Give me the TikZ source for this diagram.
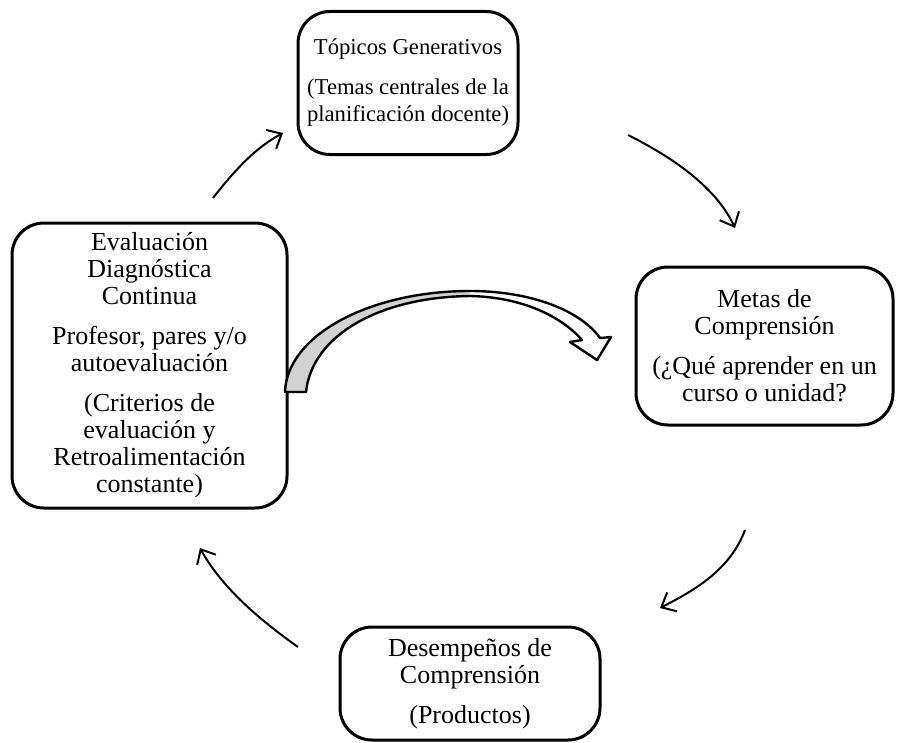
\documentclass[tikz,border=0pt]{standalone}
\usepackage{fontspec}
\setmainfont{Liberation Serif}
\usepackage{tikz}
\usetikzlibrary{positioning}
\usetikzlibrary{arrows,arrows.meta}

\tikzset{box/.style={draw, line width=2.25pt, rounded corners=24pt, align=center, inner sep=0pt,
    font=\fontsize{19.5}{20.25}\selectfont}}
\tikzset{flecha/.style={line width=1.5pt, -{Straight Barb[length=9pt,width=16pt,line width=1.5pt]}}}

\begin{document}
\begin{tikzpicture}[x=0.75pt,y=-0.75pt]
\useasboundingbox (0,0) rectangle (905,742);
\node[box, font=\fontsize{17}{20.25}\selectfont, minimum width=165pt, minimum height=107.25pt] (topicos) at (408,83)
  {Tópicos Generativos\\[9.75pt](Temas centrales de la\\planificación docente)};
\node[box, minimum width=192.75pt, minimum height=118.5pt] (metas) at (764.5,346)
  {Metas de\\Comprensión\\[9.75pt](¿Qué aprender en un\\curso o unidad?};
\node[box, minimum width=195pt, minimum height=84.75pt] (desemp) at (470,683.5)
  {Desempeños de\\Comprensión\\[9.75pt](Productos)};
\node[box, minimum width=206.25pt, minimum height=213.75pt] (evalua) at (149.5,365.5)
  {Evaluación\\Diagnóstica\\Continua\\[9.75pt]Profesor, pares y/o\\autoevaluación\\[9.75pt](Criterios de\\evaluación y\\Retroalimentación\\constante)};
% ciclo
\coordinate (a1) at (213,198);
\coordinate (b1) at (283,133);
\coordinate (a2) at (628,135);
\coordinate (b2) at (735,228);
\coordinate (a3) at (745,530);
\coordinate (b3) at (660,608);
\coordinate (a4) at (298,647);
\coordinate (b4) at (200,548);
\draw[flecha] (a1) .. controls (235,170) and (255,148) .. (b1);
\draw[flecha] (a2) .. controls (668,155) and (715,185) .. (b2);
\draw[flecha] (a3) .. controls (730,570) and (695,590) .. (b3);
\draw[flecha] (a4) .. controls (260,620) and (222,588) .. (b4);
% flecha curva
\fill[white] (285,392) .. controls (287,335) and (370,291) .. (470,291)
  .. controls (530,291) and (580,310) .. (600,338) -- (611,337) -- (597,360) -- (570,342) -- (582,340)
  .. controls (560,315) and (520,297) .. (470,296)
  .. controls (380,297) and (312,335) .. (306,392) -- cycle;
\fill[gray!35] (285,392) .. controls (287,335) and (370,291) .. (470,291) -- (470,296)
  .. controls (380,297) and (312,335) .. (306,392) -- cycle;
\draw[line width=1.8pt, line join=round] (285,392) .. controls (287,335) and (370,291) .. (470,291)
  .. controls (530,291) and (580,310) .. (600,338) -- (611,337) -- (597,360) -- (570,342) -- (582,340)
  .. controls (560,315) and (520,297) .. (470,296)
  .. controls (380,297) and (312,335) .. (306,392) -- cycle;
\end{tikzpicture}
\end{document}
